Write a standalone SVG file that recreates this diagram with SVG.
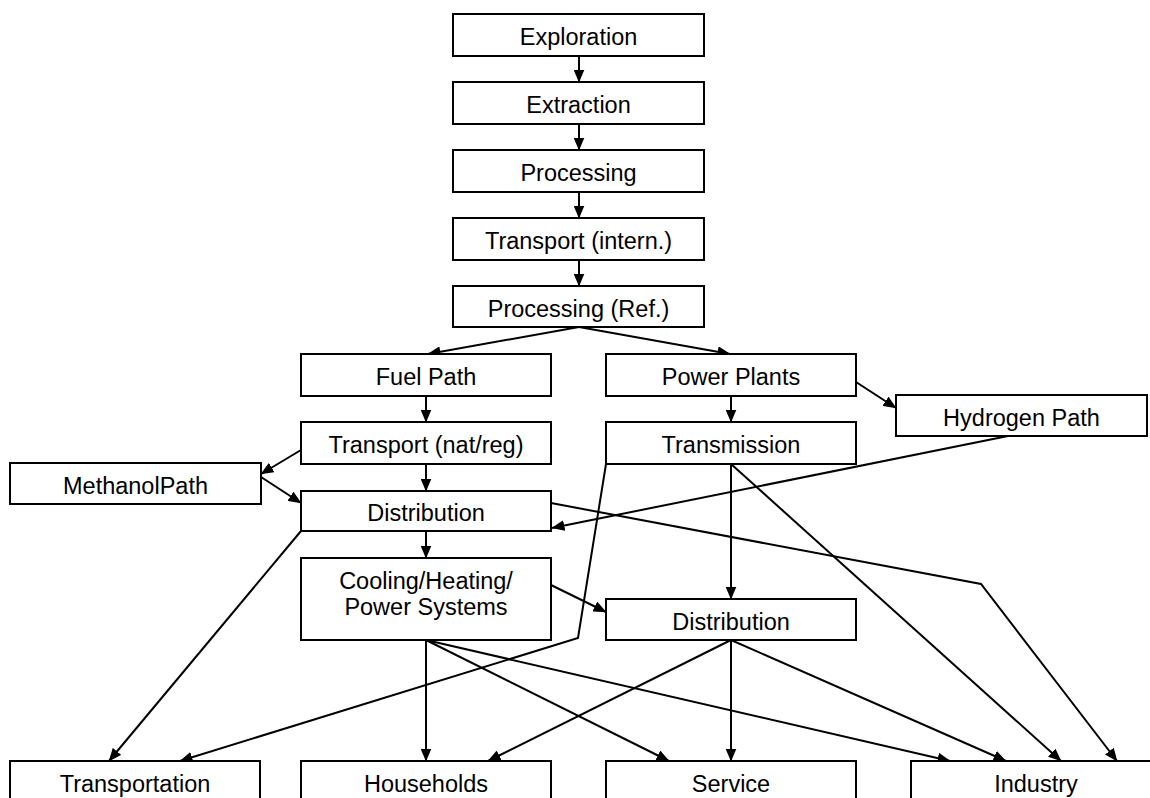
<svg xmlns="http://www.w3.org/2000/svg" width="1150" height="798" viewBox="0 0 1150 798">
  <style>
    .box { fill: #ffffff; stroke: #000000; stroke-width: 2; }
    .lbl { font-family: "Liberation Sans", Arial, sans-serif; font-size: 23.5px; fill: #000000; text-anchor: middle; }
    .edge { fill: none; stroke: #000000; stroke-width: 2; marker-end: url(#arrow); }
  </style>
  <defs>
    <marker id="arrow" markerUnits="userSpaceOnUse" markerWidth="13" markerHeight="11" refX="12.5" refY="5.5" orient="auto">
      <path d="M0,0 L13,5.5 L0,11 z" fill="#000000"/>
    </marker>
  </defs>
  <rect width="1150" height="798" fill="#ffffff"/>

  <!-- connectors -->
  <g id="connectors">
    <path class="edge" d="M579,56 L579,82"/>
    <path class="edge" d="M579,124 L579,150"/>
    <path class="edge" d="M579,192 L579,218"/>
    <path class="edge" d="M579,260 L579,286"/>
    <path class="edge" d="M579,327 L428,354"/>
    <path class="edge" d="M579,327 L730,354"/>
    <path class="edge" d="M426,396 L426,422"/>
    <path class="edge" d="M731,396 L731,422"/>
    <path class="edge" d="M856,382 L896,408"/>
    <path class="edge" d="M301,450 L261,474"/>
    <path class="edge" d="M261,477 L301,503"/>
    <path class="edge" d="M426,464 L426,491"/>
    <path class="edge" d="M1008,436 L552,528"/>
    <path class="edge" d="M426,531 L426,558"/>
    <path class="edge" d="M301,531 L109,761"/>
    <path class="edge" d="M551,503 L981,584 L1117,761"/>
    <path class="edge" d="M606,464 L578,638 L180,761"/>
    <path class="edge" d="M731,464 L731,599"/>
    <path class="edge" d="M731,464 L1061,761"/>
    <path class="edge" d="M551,585 L606,612"/>
    <path class="edge" d="M426,640 L426,761"/>
    <path class="edge" d="M426,640 L669,761"/>
    <path class="edge" d="M426,640 L950,761"/>
    <path class="edge" d="M731,640 L488,761"/>
    <path class="edge" d="M731,640 L731,761"/>
    <path class="edge" d="M731,640 L1006,761"/>
  </g>

  <!-- main chain -->
  <g id="exploration"><rect class="box" x="453" y="14" width="251" height="42"/><text class="lbl" x="578.5" y="45">Exploration</text></g>
  <g id="extraction"><rect class="box" x="453" y="82" width="251" height="42"/><text class="lbl" x="578.5" y="113">Extraction</text></g>
  <g id="processing"><rect class="box" x="453" y="150" width="251" height="42"/><text class="lbl" x="578.5" y="181">Processing</text></g>
  <g id="transport-intern"><rect class="box" x="453" y="218" width="251" height="42"/><text class="lbl" x="578.5" y="249">Transport (intern.)</text></g>
  <g id="processing-ref"><rect class="box" x="453" y="286" width="251" height="41"/><text class="lbl" x="578.5" y="317">Processing (Ref.)</text></g>

  <!-- fuel branch -->
  <g id="fuel-path"><rect class="box" x="301" y="354" width="250" height="42"/><text class="lbl" x="426" y="385">Fuel Path</text></g>
  <g id="transport-natreg"><rect class="box" x="301" y="422" width="250" height="42"/><text class="lbl" x="426" y="453">Transport (nat/reg)</text></g>
  <g id="methanol-path"><rect class="box" x="10" y="463" width="251" height="41"/><text class="lbl" x="135.5" y="494">MethanolPath</text></g>
  <g id="distribution-fuel"><rect class="box" x="301" y="491" width="250" height="40"/><text class="lbl" x="426" y="521">Distribution</text></g>
  <g id="cooling-heating"><rect class="box" x="301" y="558" width="250" height="82"/><text class="lbl" x="426" y="589">Cooling/Heating/</text><text class="lbl" x="426" y="615">Power Systems</text></g>

  <!-- power branch -->
  <g id="power-plants"><rect class="box" x="606" y="354" width="250" height="42"/><text class="lbl" x="731" y="385">Power Plants</text></g>
  <g id="hydrogen-path"><rect class="box" x="896" y="395" width="251" height="41"/><text class="lbl" x="1021.5" y="426">Hydrogen Path</text></g>
  <g id="transmission"><rect class="box" x="606" y="422" width="250" height="42"/><text class="lbl" x="731" y="453">Transmission</text></g>
  <g id="distribution-power"><rect class="box" x="606" y="599" width="250" height="41"/><text class="lbl" x="731" y="630">Distribution</text></g>

  <!-- end-use sectors -->
  <g id="transportation"><rect class="box" x="10" y="761" width="250" height="42"/><text class="lbl" x="135" y="792">Transportation</text></g>
  <g id="households"><rect class="box" x="301" y="761" width="250" height="42"/><text class="lbl" x="426" y="792">Households</text></g>
  <g id="service"><rect class="box" x="606" y="761" width="250" height="42"/><text class="lbl" x="731" y="792">Service</text></g>
  <g id="industry"><rect class="box" x="911" y="761" width="250" height="42"/><text class="lbl" x="1036" y="792">Industry</text></g>
</svg>
